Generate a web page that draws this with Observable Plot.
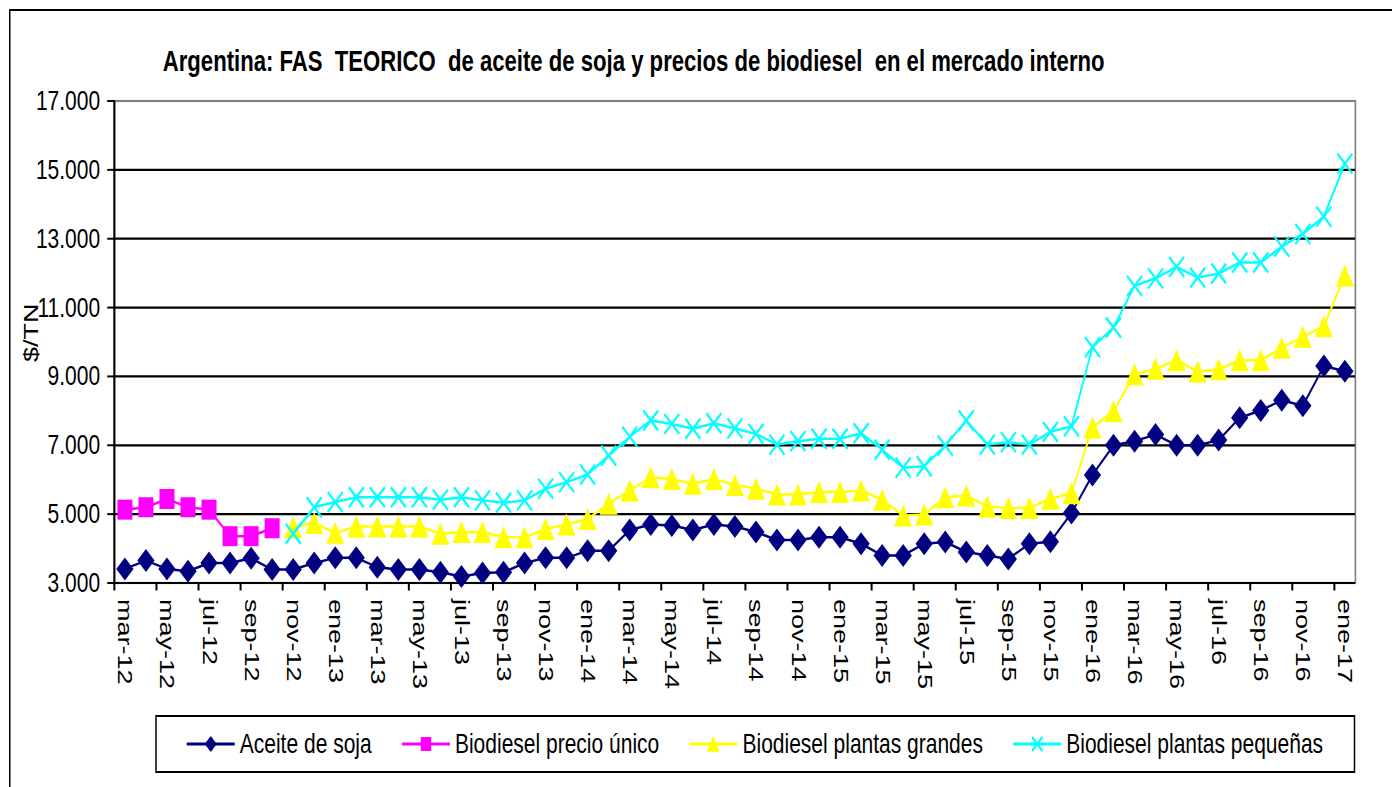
<!DOCTYPE html>
<html>
<head>
<meta charset="utf-8">
<script src="https://cdn.jsdelivr.net/npm/d3@7"></script>
<script src="https://cdn.jsdelivr.net/npm/@observablehq/plot@0.6"></script>
<style>
  html, body { margin: 0; padding: 0; overflow: hidden; background: #fff; }
  #stage { position: absolute; left: 0; top: 0; width: 1856px; height: 787px;
           transform: scaleX(0.75); transform-origin: 0 0;
           font-family: "Liberation Sans", Arial, sans-serif; color: #000; }
  #border { position: absolute; left: 12px; top: 9px; width: 2000px; height: 900px;
            border-left: 2.67px solid #000; border-top: 2px solid #000; z-index: 5; pointer-events: none; }
  #title { position: absolute; left: 217px; top: 46px; font-weight: bold; font-size: 29.5px;
           white-space: pre; line-height: 1; }
  #chart { position: absolute; left: 0; top: 85px; }
  #legend { position: absolute; left: 206.7px; top: 715px; width: 1600px; height: 58px; box-sizing: border-box;
            border: 2px solid #000; border-left-width: 2.67px; border-right-width: 2.67px;
            display: flex; align-items: center; padding-left: 40px; gap: 40px; font-size: 28px; }
  .item { display: flex; align-items: center; gap: 7px; white-space: pre; }
  .item svg { display: block; overflow: visible; }
</style>
</head>
<body>
<div id="stage">
  <div id="title">Argentina: FAS  TEORICO  de aceite de soja y precios de biodiesel  en el mercado interno</div>
  <div id="chart"></div>
  <div id="legend"></div>
  <div id="border"></div>
</div>
<script>
// ---- data ----
const months = ["mar-12","abr-12","may-12","jun-12","jul-12","ago-12","sep-12","oct-12","nov-12","dic-12",
  "ene-13","feb-13","mar-13","abr-13","may-13","jun-13","jul-13","ago-13","sep-13","oct-13","nov-13","dic-13",
  "ene-14","feb-14","mar-14","abr-14","may-14","jun-14","jul-14","ago-14","sep-14","oct-14","nov-14","dic-14",
  "ene-15","feb-15","mar-15","abr-15","may-15","jun-15","jul-15","ago-15","sep-15","oct-15","nov-15","dic-15",
  "ene-16","feb-16","mar-16","abr-16","may-16","jun-16","jul-16","ago-16","sep-16","oct-16","nov-16","dic-16",
  "ene-17"];
const aceite = [3410,3650,3410,3340,3580,3580,3720,3390,3390,3580,
  3730,3730,3460,3390,3390,3310,3190,3290,3310,3580,3730,3730,
  3940,3940,4540,4700,4670,4540,4700,4640,4480,4250,4250,4330,
  4330,4140,3800,3800,4140,4190,3900,3800,3700,4140,4200,5030,
  6140,7000,7120,7310,7000,7000,7150,7800,8010,8310,8150,9300,
  9150];
const precioUnico = [5130,5200,5440,5200,5130,4360,4360,4590,null,null,
  null,null,null,null,null,null,null,null,null,null,null,null,
  null,null,null,null,null,null,null,null,null,null,null,null,
  null,null,null,null,null,null,null,null,null,null,null,null,
  null,null,null,null,null,null,null,null,null,null,null,null,
  null];
const plantasGrandes = [null,null,null,null,null,null,null,null,4620,4740,
  4460,4640,4640,4640,4640,4430,4480,4480,4330,4330,4570,4700,
  4860,5300,5690,6070,6020,5880,6020,5850,5740,5570,5570,5640,
  5640,5690,5420,4960,4990,5490,5540,5220,5180,5180,5450,5610,
  7520,7990,9060,9220,9470,9140,9210,9470,9470,9830,10150,10460,
  11930];
const plantasPequenas = [null,null,null,null,null,null,null,null,4430,5200,
  5350,5490,5490,5490,5490,5420,5490,5400,5330,5400,5740,5930,
  6150,6700,7250,7720,7620,7480,7640,7490,7330,7020,7120,7190,
  7190,7350,6870,6350,6390,6990,7720,7020,7090,7020,7390,7550,
  9850,10420,11630,11850,12180,11870,11990,12310,12310,12770,13140,13640,
  15180];
const seriesNames = ["Aceite de soja","Biodiesel precio único","Biodiesel plantas grandes","Biodiesel plantas pequeñas"];
const yTicks = [3000,5000,7000,9000,11000,13000,15000,17000];
const yLabel = "$/TN";
const titleText = "Argentina: FAS  TEORICO  de aceite de soja y precios de biodiesel  en el mercado interno";

// ---- styles ----
const diamond = s => ({draw(c){const a=11.5*s; c.moveTo(0,-a); c.lineTo(a,0); c.lineTo(0,a); c.lineTo(-a,0); c.closePath();}});
const square = s => ({draw(c){const a=10*s; c.moveTo(-a,-a); c.lineTo(a,-a); c.lineTo(a,a); c.lineTo(-a,a); c.closePath();}});
const triangle = s => ({draw(c){const w=12*s, h=11*s; c.moveTo(0,-h); c.lineTo(w,h); c.lineTo(-w,h); c.closePath();}});
const cross = s => ({draw(c){const a=10*s; c.moveTo(-a,-a); c.lineTo(a,a); c.moveTo(a,-a); c.lineTo(-a,a);}});

const series = [
  {name: seriesNames[0], values: aceite, color: "#000080", sym: diamond, filled: true},
  {name: seriesNames[1], values: precioUnico, color: "#FF00FF", sym: square, filled: true},
  {name: seriesNames[2], values: plantasGrandes, color: "#FFFF00", sym: triangle, filled: true},
  {name: seriesNames[3], values: plantasPequenas, color: "#00FFFF", sym: cross, filled: false}
];
const pts = s => s.values.map((v, i) => ({i, v})).filter(d => d.v != null);

document.getElementById("title").textContent = titleText;

const xDomain = [-0.5, months.length - 0.5];
const labelIdx = months.map((m, i) => i).filter(i => i % 2 === 0);
const fmt = d => d3.format(",")(d).replace(/,/g, ".");

const chart = Plot.plot({
  width: 1856, height: 615,
  marginLeft: 152, marginRight: 49.3, marginTop: 15.5, marginBottom: 117.5,
  x: {type: "linear", domain: xDomain},
  y: {domain: [yTicks[0], yTicks[yTicks.length - 1]]},
  style: {fontFamily: "'Liberation Sans', Arial, sans-serif", fontSize: "27px", color: "#000", background: "transparent", overflow: "visible"},
  marks: [
    Plot.frame({stroke: "#808080", strokeWidth: 2.2}),
    Plot.ruleY(yTicks.slice(0, -1), {stroke: "#000", strokeWidth: 2.2}),
    Plot.ruleX([xDomain[0]], {stroke: "#000", strokeWidth: 2.67}),
    Plot.axisY({ticks: yTicks, tickFormat: fmt, tickSize: 9, tickPadding: 10, strokeWidth: 2, label: null, fontSize: 28}),
    Plot.axisX({ticks: labelIdx.map(i => i - 0.5), tickSize: 8, tickFormat: () => "", strokeWidth: 2.67, label: null}),
    Plot.axisX({ticks: labelIdx, tickSize: 0, tickPadding: 16, tickRotate: 90, tickFormat: i => months[i], label: null, fontSize: 27}),
    Plot.text([yLabel], {text: d => d, frameAnchor: "left", dx: -110, dy: 20, rotate: -90, fontSize: 27}),
    ...series.flatMap(s => [
      Plot.line(pts(s), {x: "i", y: "v", stroke: s.color, strokeWidth: 2.5}),
      Plot.dot(pts(s), s.filled
        ? {x: "i", y: "v", symbol: s.sym(1), fill: s.color, stroke: "none"}
        : {x: "i", y: "v", symbol: s.sym(1), fill: "none", stroke: s.color, strokeWidth: 2.6})
    ])
  ]
});
document.getElementById("chart").appendChild(chart);

// ---- legend ----
const legend = d3.select("#legend");
series.forEach(s => {
  const item = legend.append("div").attr("class", "item");
  const sw = item.append("svg").attr("width", 64).attr("height", 30);
  sw.append("line").attr("x1", 0).attr("x2", 64).attr("y1", 15).attr("y2", 15)
    .attr("stroke", s.color).attr("stroke-width", 3);
  const p = d3.path(); s.sym(0.7).draw(p);
  sw.append("path").attr("d", p.toString()).attr("transform", "translate(32,15)")
    .attr("fill", s.filled ? s.color : "none").attr("stroke", s.filled ? "none" : s.color).attr("stroke-width", 2.5);
  item.append("span").text(s.name);
});
</script>
</body>
</html>
